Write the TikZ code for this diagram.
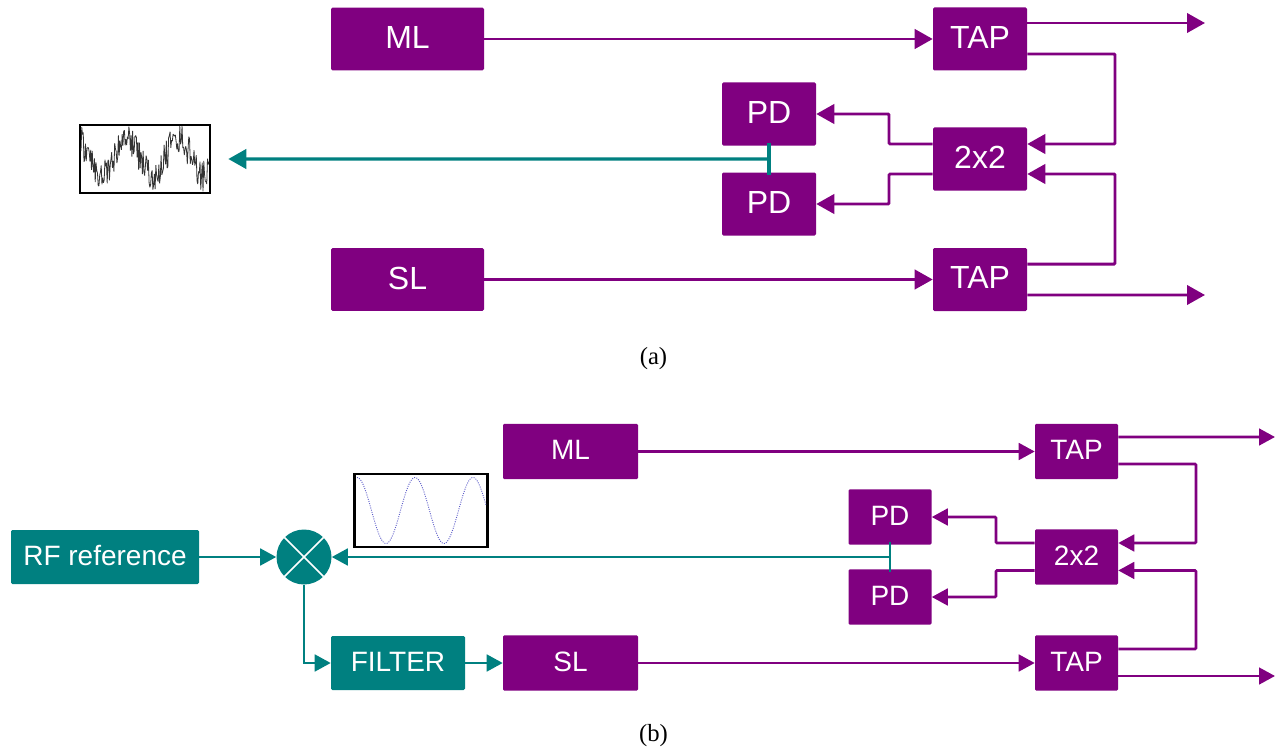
\documentclass[tikz,border=0pt]{standalone}
\usepackage{fontspec}
\setmainfont{Liberation Serif}
\newfontfamily\boxfont{Liberation Sans}
\usetikzlibrary{arrows.meta,positioning,calc}
\definecolor{bpurple}{HTML}{800080}
\definecolor{bteal}{HTML}{008080}

\begin{document}
\begin{tikzpicture}[
    x=0.75pt, y=-0.75pt,
    block/.style={rounded corners=1pt, inner sep=0pt, align=center, text=white, fill=bpurple, text depth=2.4pt},
    lasera/.style={block, minimum width=114.75pt, minimum height=46.9pt, font=\boxfont\fontsize{24}{28}\selectfont},
    boxa/.style={block, minimum width=70.5pt, minimum height=47.25pt, font=\boxfont\fontsize{24}{28}\selectfont},
    laserb/.style={block, minimum width=101.25pt, minimum height=41.6pt, font=\boxfont\fontsize{21}{25}\selectfont},
    boxb/.style={block, minimum width=62.25pt, minimum height=41.6pt, font=\boxfont\fontsize{21}{25}\selectfont},
    tealbox/.style={block, fill=bteal, minimum height=40.5pt, font=\boxfont\fontsize{21}{25}\selectfont},
    scopebox/.style={draw=black, inner sep=0pt},
    sublabel/.style={font=\fontsize{18.5}{22}\selectfont},
    arra/.style={-{Triangle[length=13.5pt,width=14.5pt]}, line width=2.2pt, bpurple, rounded corners=0.8pt},
    arrb/.style={-{Triangle[length=12pt,width=12.5pt]}, line width=2pt, bpurple, rounded corners=0.8pt},
    tarra/.style={-{Triangle[length=13.5pt,width=14.5pt]}, line width=2.4pt, bteal},
    tarrb/.style={-{Triangle[length=12pt,width=12.5pt]}, line width=2pt, bteal}
]
\useasboundingbox (0,0) rectangle (1275,749);

% (a)
\node[lasera] (mla) at (407.5,39) {ML};
\node[lasera] (sla) at (407.5,279.5) {SL};
\node[boxa] (tapa1) at (980,39) {TAP};
\node[boxa] (tapa2) at (980,279.5) {TAP};
\node[boxa] (cpa) at (980,159) {2x2};
\node[boxa] (pda1) at (769,114) {PD};
\node[boxa] (pda2) at (769,204) {PD};
\node[scopebox, line width=1.5pt, minimum width=98pt, minimum height=51.5pt] (wavea) at (145,159) {};
\node[sublabel] (capa) at (653.5,358.5) {(a)};

\coordinate (enda1) at (1205,23);
\coordinate (enda2) at (1205,295);
\coordinate (busa1) at (1115,100);
\coordinate (busa2) at (1115,220);
\coordinate (turna1) at (889,130);
\coordinate (turna2) at (889,190);
\coordinate (joina) at ($(pda1.south)!0.5!(pda2.north)$);

\draw[arra] (mla) -- (tapa1);
\draw[arra] (sla) -- (tapa2);
\draw[arra] ([yshift=12pt]tapa1.east) -- (enda1);
\draw[arra] ([yshift=-11.6pt]tapa2.east) -- (enda2);
\draw[arra] ([yshift=-11.25pt]tapa1.east) -| (busa1) |- ([yshift=11.25pt]cpa.east);
\draw[arra] ([yshift=11.6pt]tapa2.east) -| (busa2) |- ([yshift=-11.25pt]cpa.east);
\draw[arra] ([yshift=11.25pt]cpa.west) -| (turna1) |- (pda1.east);
\draw[arra] ([yshift=-11.25pt]cpa.west) -| (turna2) |- (pda2.east);
\draw[bteal, line width=2.4pt] ([yshift=2.2pt]pda1.south) -- ([yshift=-2.2pt]pda2.north);
\draw[tarra] (joina) -- ([xshift=12.75pt]wavea.east);

\pgfmathsetseed{4217}
\draw[black!80, line width=0.6pt, line join=bevel] plot[domain=81:209, samples=172]
    (\x, {max(126,min(192,157-19*cos(360/51*(\x-127))+16*rand))});

% (b)
\node[laserb] (mlb) at (570.5,451.5) {ML};
\node[laserb] (slb) at (570.5,663) {SL};
\node[boxb] (tapb1) at (1076.5,451.5) {TAP};
\node[boxb] (tapb2) at (1076.5,663) {TAP};
\node[boxb] (cpb) at (1076.5,557) {2x2};
\node[boxb] (pdb1) at (890,517) {PD};
\node[boxb] (pdb2) at (890,597) {PD};
\node[tealbox, minimum width=141pt] (rfref) at (105,557) {RF reference};
\node[tealbox, minimum width=100.5pt] (filter) at (398,663) {FILTER};
\node[circle, fill=bteal, inner sep=0pt, minimum size=41.25pt] (mixer) at (304,557) {};
\node[scopebox, line width=1.9pt, minimum width=99.5pt, minimum height=54.5pt] (waveb) at (421,510.5) {};
\node[sublabel] (capb) at (653.5,735.5) {(b)};

\coordinate (endb1) at (1275,437);
\coordinate (endb2) at (1275,676);
\coordinate (busb1) at (1196,500);
\coordinate (busb2) at (1196,610);
\coordinate (turnb1) at (996,530);
\coordinate (turnb2) at (996,585);
\coordinate (joinb) at ($(pdb1.south)!0.5!(pdb2.north)$);

\draw[white, line width=1.2pt] (mixer.north west) -- (mixer.south east);
\draw[white, line width=1.2pt] (mixer.north east) -- (mixer.south west);

\draw[arrb] (mlb) -- (tapb1);
\draw[arrb] (slb) -- (tapb2);
\draw[arrb] ([yshift=10.9pt]tapb1.east) -- (endb1);
\draw[arrb] ([yshift=-9.75pt]tapb2.east) -- (endb2);
\draw[arrb] ([yshift=-9.4pt]tapb1.east) -| (busb1) |- ([yshift=10.5pt]cpb.east);
\draw[arrb] ([yshift=10.5pt]tapb2.east) -| (busb2) |- ([yshift=-10.1pt]cpb.east);
\draw[arrb] ([yshift=10.5pt]cpb.west) -| (turnb1) |- (pdb1.east);
\draw[arrb] ([yshift=-10.1pt]cpb.west) -| (turnb2) |- (pdb2.east);
\draw[bteal, line width=2pt] ([yshift=2pt]pdb1.south) -- ([yshift=-2pt]pdb2.north);
\draw[tarrb] (joinb) -- (mixer);
\draw[tarrb] (rfref) -- (mixer);
\draw[tarrb] (mixer.south) |- (filter.west);
\draw[tarrb] (filter) -- (slb);

\draw[blue!50!gray!85, line width=0.7pt, densely dotted] plot[domain=357:486, samples=130]
    (\x, {510.5-33*cos(360/58*(\x-357))});
\end{tikzpicture}
\end{document}
